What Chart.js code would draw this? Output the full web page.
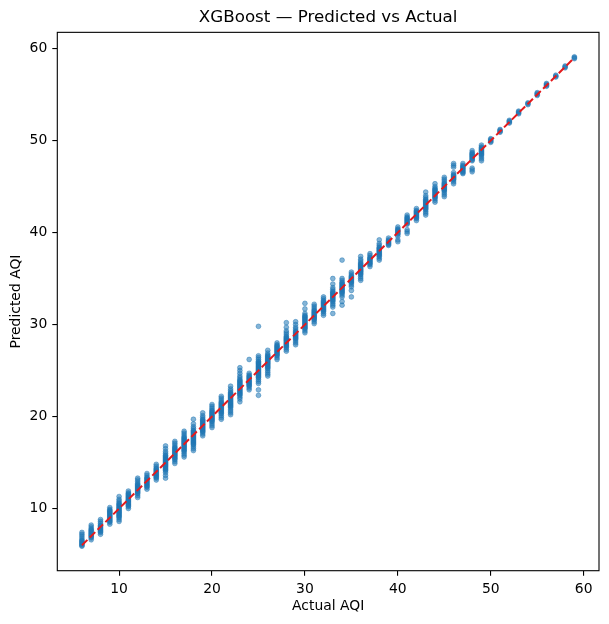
<!DOCTYPE html>
<html>
<head>
<meta charset="utf-8">
<title>XGBoost — Predicted vs Actual</title>
<script src="https://cdn.jsdelivr.net/npm/chart.js@4.4.1/dist/chart.umd.min.js"></script>
<style>
  html, body { margin: 0; padding: 0; background: #fff; }
  canvas { display: block; }
</style>
</head>
<body>
<canvas id="chart" width="609" height="624"></canvas>
<script>
// actual AQI values (integer categories on the x axis)
var actualAQI = [6, 7, 8, 9, 10, 11, 12, 13, 14, 15, 16, 17, 18, 19, 20, 21, 22, 23, 24, 25, 26, 27, 28, 29, 30,
    31, 32, 33, 34, 35, 36, 37, 38, 39, 40, 41, 42, 43, 44, 45, 46, 47, 48, 49, 50, 51, 52, 53, 54, 55, 56, 57, 58, 59];

// predicted AQI values, one list per actual value
var predictedAQI = [
    [5.9, 6.0, 6.1, 6.2, 6.3, 6.4, 6.5, 6.6, 6.8, 7.0, 7.2, 7.4],
    [6.6, 6.8, 6.9, 7.0, 7.1, 7.2, 7.3, 7.4, 7.5, 7.6, 7.7, 7.8, 8.0, 8.2],
    [7.2, 7.4, 7.5, 7.6, 7.7, 7.8, 7.9, 8.0, 8.1, 8.2, 8.4, 8.6, 8.8],
    [8.3, 8.5, 8.6, 8.7, 8.8, 8.9, 9.0, 9.1, 9.2, 9.3, 9.4, 9.5, 9.6, 9.7, 9.8, 9.9, 10.1],
    [8.6, 8.8, 9.0, 9.1, 9.2, 9.3, 9.4, 9.5, 9.6, 9.7, 9.8, 9.9, 10.0, 10.1, 10.2, 10.3, 10.4, 10.5, 10.6, 10.8, 11.0, 11.3],
    [10.0, 10.2, 10.3, 10.4, 10.5, 10.6, 10.7, 10.8, 10.9, 11.0, 11.1, 11.2, 11.3, 11.4, 11.5, 11.6, 11.7, 11.9],
    [11.2, 11.4, 11.6, 11.7, 11.8, 11.9, 12.0, 12.1, 12.2, 12.3, 12.4, 12.5, 12.6, 12.7, 12.9, 13.1, 13.3],
    [12.1, 12.3, 12.4, 12.5, 12.6, 12.7, 12.8, 12.9, 13.0, 13.1, 13.2, 13.3, 13.4, 13.6, 13.8],
    [13.1, 13.3, 13.4, 13.5, 13.6, 13.7, 13.8, 13.9, 14.0, 14.1, 14.2, 14.3, 14.4, 14.6, 14.8],
    [13.3, 13.6, 13.9, 14.1, 14.2, 14.3, 14.4, 14.5, 14.6, 14.7, 14.8, 14.9, 15.0, 15.1, 15.2, 15.3, 15.4, 15.5, 15.6, 15.7, 15.8, 16.0, 16.2, 16.5, 16.8],
    [14.9, 15.1, 15.3, 15.4, 15.5, 15.6, 15.7, 15.8, 15.9, 16.0, 16.1, 16.2, 16.3, 16.4, 16.5, 16.6, 16.7, 16.9, 17.1, 17.3],
    [15.6, 15.8, 16.0, 16.2, 16.3, 16.4, 16.5, 16.6, 16.7, 16.8, 16.9, 17.0, 17.1, 17.2, 17.3, 17.4, 17.5, 17.6, 17.7, 17.8, 18.0, 18.2, 18.4],
    [16.3, 16.5, 16.7, 16.9, 17.0, 17.1, 17.2, 17.3, 17.4, 17.5, 17.6, 17.7, 17.8, 17.9, 18.0, 18.1, 18.2, 18.3, 18.4, 18.5, 18.7, 18.9, 19.2, 19.7],
    [17.9, 18.1, 18.3, 18.4, 18.5, 18.6, 18.7, 18.8, 18.9, 19.0, 19.1, 19.2, 19.3, 19.4, 19.5, 19.6, 19.7, 19.9, 20.1, 20.4],
    [18.8, 19.0, 19.2, 19.4, 19.5, 19.6, 19.7, 19.8, 19.9, 20.0, 20.1, 20.2, 20.3, 20.4, 20.5, 20.6, 20.7, 20.9, 21.1, 21.3],
    [19.7, 19.9, 20.1, 20.3, 20.4, 20.5, 20.6, 20.7, 20.8, 20.9, 21.0, 21.1, 21.2, 21.3, 21.4, 21.5, 21.6, 21.8, 22.0, 22.2],
    [20.2, 20.4, 20.6, 20.8, 21.0, 21.1, 21.2, 21.3, 21.4, 21.5, 21.6, 21.7, 21.8, 21.9, 22.0, 22.1, 22.2, 22.3, 22.4, 22.5, 22.6, 22.8, 23.0, 23.3],
    [21.6, 21.9, 22.1, 22.3, 22.4, 22.5, 22.6, 22.7, 22.8, 22.9, 23.0, 23.1, 23.2, 23.3, 23.4, 23.5, 23.6, 23.7, 23.8, 23.9, 24.0, 24.2, 24.4, 24.7, 25.0, 25.3],
    [22.9, 23.1, 23.3, 23.4, 23.5, 23.6, 23.7, 23.8, 23.9, 24.0, 24.1, 24.2, 24.3, 24.4, 24.5, 24.7, 26.2],
    [22.3, 22.9, 23.6, 23.8, 24.0, 24.2, 24.3, 24.4, 24.5, 24.6, 24.7, 24.8, 24.9, 25.0, 25.1, 25.2, 25.3, 25.4, 25.5, 25.6, 25.7, 25.8, 25.9, 26.0, 26.2, 26.4, 26.6, 29.8],
    [24.4, 24.6, 24.8, 25.0, 25.2, 25.3, 25.4, 25.5, 25.6, 25.7, 25.8, 25.9, 26.0, 26.1, 26.2, 26.3, 26.4, 26.5, 26.6, 26.7, 26.9, 27.2],
    [26.2, 26.4, 26.6, 26.7, 26.8, 26.9, 27.0, 27.1, 27.2, 27.3, 27.4, 27.5, 27.6, 27.7, 27.8, 28.0],
    [27.1, 27.3, 27.5, 27.6, 27.7, 27.8, 27.9, 28.0, 28.1, 28.2, 28.3, 28.4, 28.5, 28.6, 28.7, 28.9, 29.1, 29.3, 29.7, 30.2],
    [27.8, 28.0, 28.2, 28.4, 28.5, 28.6, 28.7, 28.8, 28.9, 29.0, 29.1, 29.2, 29.3, 29.5, 29.7, 30.0, 30.3],
    [29.1, 29.3, 29.5, 29.6, 29.7, 29.8, 29.9, 30.0, 30.1, 30.2, 30.3, 30.4, 30.5, 30.6, 30.7, 30.8, 30.9, 31.0, 31.2, 31.7, 32.3],
    [30.1, 30.3, 30.5, 30.6, 30.7, 30.8, 30.9, 31.0, 31.1, 31.2, 31.3, 31.4, 31.5, 31.6, 31.8, 32.0, 32.2],
    [31.0, 31.2, 31.4, 31.5, 31.6, 31.7, 31.8, 31.9, 32.0, 32.1, 32.2, 32.3, 32.4, 32.5, 32.6, 32.8, 33.0],
    [31.2, 31.9, 32.1, 32.3, 32.5, 32.6, 32.7, 32.8, 32.9, 33.0, 33.1, 33.2, 33.3, 33.4, 33.5, 33.6, 33.8, 34.0, 34.4, 35.0],
    [32.1, 32.5, 33.0, 33.2, 33.4, 33.5, 33.6, 33.7, 33.8, 33.9, 34.0, 34.1, 34.2, 34.3, 34.4, 34.5, 34.6, 34.8, 35.0, 37.0],
    [33.0, 33.7, 34.1, 34.3, 34.5, 34.6, 34.7, 34.8, 34.9, 35.0, 35.1, 35.2, 35.3, 35.5, 35.7],
    [34.8, 35.0, 35.2, 35.4, 35.5, 35.6, 35.7, 35.8, 35.9, 36.0, 36.1, 36.2, 36.3, 36.4, 36.5, 36.6, 36.7, 36.9, 37.1, 37.4],
    [36.3, 36.5, 36.6, 36.7, 36.8, 36.9, 37.0, 37.1, 37.2, 37.3, 37.5, 37.7],
    [37.0, 37.2, 37.4, 37.5, 37.6, 37.7, 37.8, 37.9, 38.0, 38.1, 38.2, 38.3, 38.4, 38.6, 38.8, 39.2],
    [38.6, 38.7, 38.8, 38.9, 39.0, 39.1, 39.2, 39.4],
    [39.0, 39.2, 39.6, 39.8, 39.9, 40.0, 40.1, 40.2, 40.3, 40.4, 40.6],
    [39.9, 40.1, 40.3, 40.9, 41.0, 41.1, 41.2, 41.3, 41.4, 41.5, 41.6, 41.7, 41.9],
    [41.3, 41.5, 41.6, 41.7, 41.8, 41.9, 42.0, 42.1, 42.2, 42.3, 42.4, 42.6],
    [41.9, 42.1, 42.3, 42.5, 42.6, 42.7, 42.8, 42.9, 43.0, 43.1, 43.2, 43.3, 43.4, 43.5, 43.6, 43.8, 44.0, 44.4],
    [43.3, 43.5, 43.7, 43.8, 43.9, 44.0, 44.1, 44.2, 44.3, 44.4, 44.5, 44.6, 44.7, 44.8, 45.0, 45.3],
    [43.9, 44.1, 44.3, 44.5, 44.6, 44.7, 44.8, 44.9, 45.0, 45.1, 45.2, 45.3, 45.4, 45.6, 45.8, 46.0],
    [45.3, 45.5, 45.7, 45.8, 45.9, 46.0, 46.1, 46.2, 46.3, 46.5, 47.1, 47.3, 47.5],
    [46.4, 46.5, 46.6, 46.7, 46.8, 46.9, 47.0, 47.1, 47.2, 47.3, 47.5],
    [46.6, 46.8, 47.0, 47.8, 47.9, 48.0, 48.1, 48.2, 48.3, 48.4, 48.5, 48.6, 48.7, 48.9],
    [47.8, 48.0, 48.2, 48.4, 48.5, 48.6, 48.7, 48.8, 48.9, 49.0, 49.1, 49.2, 49.3, 49.5],
    [49.8, 49.9, 50.0, 50.1, 50.2],
    [50.9, 51.0, 51.1, 51.2],
    [51.9, 52.0, 52.1, 52.2],
    [52.9, 53.0, 53.1, 53.2],
    [53.9, 54.0, 54.1],
    [54.9, 55.0, 55.1, 55.2],
    [55.9, 56.0, 56.1, 56.2],
    [56.9, 57.0, 57.1],
    [57.9, 58.0, 58.1],
    [58.9, 59.0, 59.1]
];

var xTickValues = [10, 20, 30, 40, 50, 60];
var yTickValues = [10, 20, 30, 40, 50, 60];

var points = [];
for (var i = 0; i < actualAQI.length; i++) {
    for (var p of predictedAQI[i]) {
        points.push({x: actualAQI[i], y: p});
    }
}

// y = x reference line over the range of actual values
var lineMin = Math.min.apply(null, actualAQI);
var lineMax = Math.max.apply(null, actualAQI);
var idealLine = [{x: lineMin, y: lineMin}, {x: lineMax, y: lineMax}];

// matplotlib-like 5% margins
var allPred = [].concat.apply([], predictedAQI);
var yDataMin = Math.min(lineMin, Math.min.apply(null, allPred));
var yDataMax = Math.max(lineMax, Math.max.apply(null, allPred));
var xPad = (lineMax - lineMin) * 0.05;
var yPad = (yDataMax - yDataMin) * 0.05;

var font = 'DejaVu Sans';
Chart.defaults.color = '#000';
Chart.defaults.font.family = font;

var framePlugin = {
    id: 'frame',
    afterDraw: function (chart) {
        var a = chart.chartArea;
        var ctx = chart.ctx;
        ctx.save();
        ctx.strokeStyle = '#000';
        ctx.lineWidth = 1.1;
        ctx.strokeRect(a.left, a.top, a.right - a.left, a.bottom - a.top);
        ctx.restore();
    }
};

var scales = {
    x: {
        type: 'linear',
        min: lineMin - xPad,
        max: lineMax + xPad,
        afterBuildTicks: function (scale) {
            scale.ticks = xTickValues.map(function (v) { return {value: v}; });
        },
        afterFit: function (scale) { scale.height = 53.3; },
        grid: {
            drawOnChartArea: false,
            drawTicks: true,
            tickLength: 5,
            color: '#000',
            lineWidth: 1.1
        },
        border: { display: false },
        ticks: {
            padding: 5,
            font: { size: 13.9 }
        },
        title: {
            display: true,
            text: 'Actual AQI',
            padding: { top: 0, bottom: 9 },
            font: { size: 13.9 }
        }
    },
    y: {
        type: 'linear',
        min: yDataMin - yPad,
        max: yDataMax + yPad,
        afterBuildTicks: function (scale) {
            scale.ticks = yTickValues.map(function (v) { return {value: v}; });
        },
        afterFit: function (scale) { scale.width = 57.3; },
        grid: {
            drawOnChartArea: false,
            drawTicks: true,
            tickLength: 5,
            color: '#000',
            lineWidth: 1.1
        },
        border: { display: false },
        ticks: {
            padding: 5,
            font: { size: 13.9 }
        },
        title: {
            display: true,
            text: 'Predicted AQI',
            padding: { top: 8, bottom: 0 },
            font: { size: 13.9 }
        }
    }
};

new Chart(document.getElementById('chart'), {
    type: 'scatter',
    data: {
        datasets: [
            {
                label: 'Predicted',
                data: points,
                order: 1,
                pointRadius: 2.4,
                pointHoverRadius: 2.4,
                backgroundColor: 'rgba(31, 119, 180, 0.55)',
                borderColor: 'rgba(31, 119, 180, 0.6)',
                borderWidth: 0.8
            },
            {
                label: 'Ideal',
                data: idealLine,
                order: 0,
                showLine: true,
                pointRadius: 0,
                borderColor: '#e41a1c',
                borderWidth: 2,
                borderDash: [7.7, 3.3]
            }
        ]
    },
    options: {
        responsive: false,
        animation: false,
        layout: {
            padding: { left: 0, right: 10, top: 0, bottom: 0 }
        },
        plugins: {
            legend: { display: false },
            tooltip: { enabled: false },
            title: {
                display: true,
                fullSize: false,
                text: 'XGBoost — Predicted vs Actual',
                padding: { top: 8, bottom: 4.3 },
                font: { size: 16.7, weight: 'normal' }
            }
        },
        scales: scales
    },
    plugins: [framePlugin]
});
</script>
</body>
</html>
